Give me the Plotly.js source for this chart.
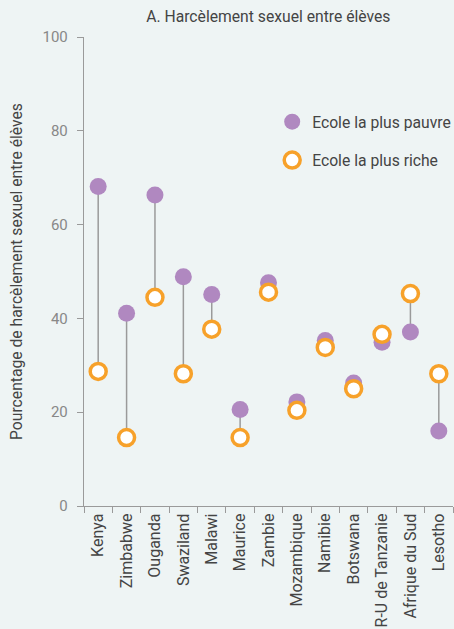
<!DOCTYPE html>
<html>
<head>
<meta charset="utf-8">
<script src="https://cdn.plot.ly/plotly-3.0.1.min.js"></script>
<style>html,body{margin:0;padding:0;background:#eef4f4;}#chart{width:454px;height:629px;}</style>
</head>
<body>
<div id="chart"></div>
<script>
const countries = ["Kenya","Zimbabwe","Ouganda","Swaziland","Malawi","Maurice","Zambie","Mozambique","Namibie","Botswana","R-U de Tanzanie","Afrique du Sud","Lesotho"];
const poorest = [68.1, 41.1, 66.3, 48.9, 45.1, 20.6, 47.6, 22.2, 35.3, 26.2, 34.9, 37.1, 16.0];
const richest = [28.7, 14.6, 44.5, 28.2, 37.7, 14.6, 45.6, 20.4, 33.8, 25.0, 36.6, 45.3, 28.2];
const yTicks = [0, 20, 40, 60, 80, 100];

const lx = [], ly = [];
countries.forEach((c, i) => { lx.push(c, c, null); ly.push(poorest[i], richest[i], null); });

const font = "Roboto, 'Open Sans', sans-serif";
const traces = [
  {x: lx, y: ly, mode: "lines", type: "scatter", line: {color: "#9a9a9a", width: 1.5}, showlegend: false, hoverinfo: "skip", connectgaps: false},
  {x: countries, y: poorest, mode: "markers", type: "scatter", name: "Ecole la plus pauvre", legendgroup: "a",
   marker: {color: "#b088c0", size: 17}},
  {x: countries, y: richest, mode: "markers", type: "scatter", name: "Ecole la plus riche", legendgroup: "b",
   marker: {color: "#ffffff", size: 16, line: {color: "#f7a12a", width: 3.5}}}
];

const layout = {
  width: 454, height: 629,
  margin: {l: 84, r: 1, t: 37, b: 123, autoexpand: false},
  paper_bgcolor: "#eef4f4", plot_bgcolor: "#eef4f4",
  font: {family: font, color: "#444", size: 15.5},
  title: {text: "A. Harcèlement sexuel entre élèves", font: {size: 15.7, color: "#444", family: font}, x: 0.591, xanchor: "center", y: 0.973, yanchor: "middle"},
  xaxis: {type: "category", range: [-0.5, 12.5], automargin: false, showgrid: false, zeroline: false, showline: true, linecolor: "#9a9a9a", linewidth: 1.2,
          ticks: "outside", tickson: "boundaries", ticklen: 6, tickcolor: "#9a9a9a", tickangle: -90, tickfont: {size: 16, color: "#444"}, fixedrange: true},
  yaxis: {range: [0, 100], automargin: false, tickvals: yTicks, ticktext: yTicks.map(String), showgrid: false, zeroline: false, showline: true, linecolor: "#9a9a9a", linewidth: 1.2,
          ticks: "outside", ticklen: 6, tickcolor: "#9a9a9a", tickfont: {size: 15, color: "#888"}, ticklabelstandoff: 6,
          title: {text: "Pourcentage de harcèlement sexuel entre élèves", font: {size: 15.7, color: "#444"}, standoff: 16}},
  legend: {x: 0.51, y: 0.855, xanchor: "left", yanchor: "top", bgcolor: "rgba(0,0,0,0)", font: {size: 15.7, color: "#444"}, traceorder: "grouped", tracegroupgap: 15},
  showlegend: true
};
Plotly.newPlot("chart", traces, layout, {displayModeBar: false, staticPlot: true});
</script>
</body>
</html>
